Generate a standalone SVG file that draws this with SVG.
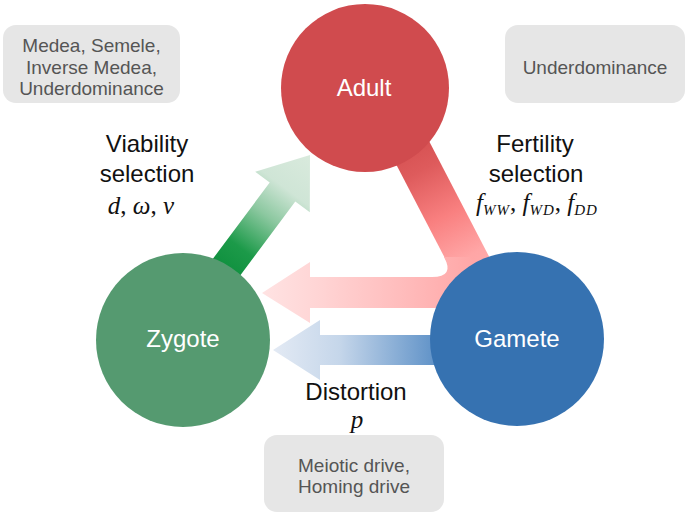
<svg xmlns="http://www.w3.org/2000/svg" width="685" height="514" viewBox="0 0 685 514">
<defs>
<linearGradient id="gGreen" gradientUnits="userSpaceOnUse" x1="211" y1="288" x2="310" y2="155">
<stop offset="0" stop-color="#058836"/>
<stop offset="0.3" stop-color="#1c9a49"/>
<stop offset="0.55" stop-color="#8cc8a0"/>
<stop offset="0.75" stop-color="#cfe5d6"/>
<stop offset="1" stop-color="#d9eadd"/>
</linearGradient>
<linearGradient id="gRedDiag" gradientUnits="userSpaceOnUse" x1="406" y1="140" x2="485" y2="292">
<stop offset="0" stop-color="#d44f50"/>
<stop offset="0.2" stop-color="#de5b5c"/>
<stop offset="0.5" stop-color="#f98080"/>
<stop offset="0.77" stop-color="#ffa6a6"/>
<stop offset="1" stop-color="#ffadad"/>
</linearGradient>
<linearGradient id="gRedHoriz" gradientUnits="userSpaceOnUse" x1="262" y1="0" x2="470" y2="0">
<stop offset="0" stop-color="#ffe3e3"/>
<stop offset="0.3" stop-color="#ffd3d3"/>
<stop offset="1" stop-color="#ffa8a8"/>
</linearGradient>
<linearGradient id="gBlue" gradientUnits="userSpaceOnUse" x1="273" y1="0" x2="440" y2="0">
<stop offset="0" stop-color="#e3eaf4"/>
<stop offset="0.4" stop-color="#c5d6ea"/>
<stop offset="1" stop-color="#5b8fc6"/>
</linearGradient>
<style>
.box{fill:#e6e6e6}
.btxt{font-family:"Liberation Sans",Arial,sans-serif;font-size:19px;fill:#555555;text-anchor:middle}
.lbl{font-family:"Liberation Sans",Arial,sans-serif;font-size:24px;fill:#111111;text-anchor:middle}
.ntxt{font-family:"Liberation Sans",Arial,sans-serif;font-size:24px;fill:#ffffff;text-anchor:middle}
.math{font-family:"Liberation Serif","Times New Roman",serif;font-style:italic;font-size:25px;fill:#111111;text-anchor:middle}
</style>
</defs>
<rect width="685" height="514" fill="#ffffff"/>

<g id="connectors">
<polygon id="arrow-viability" fill="url(#gGreen)" points="198.2,278.5 269.7,182.5 255.2,171.7 310,155 309.8,212.3 295.3,201.5 223.8,297.5"/>
<polygon id="arrow-fertility-diag" fill="url(#gRedDiag)" points="388.3,149.2 423.7,130.8 502.7,282.8 467.3,301.2"/>
<path id="arrow-fertility-horiz" fill="url(#gRedHoriz)" d="M444,257 Q455,277 432,277 L310,277 L310,262 L262,293 L310,323 L310,308 L490,308 L470,257 Z"/>
<polygon id="arrow-distortion" fill="url(#gBlue)" points="480,335 320,335 320,320 273,350 320,380 320,365 480,365"/>
</g>

<g id="node-adult">
<circle cx="365" cy="88" r="84" fill="#d04b4e"/>
<text class="ntxt" x="364" y="96">Adult</text>
</g>
<g id="node-zygote">
<circle cx="183" cy="340" r="87" fill="#559a70"/>
<text class="ntxt" x="183" y="347">Zygote</text>
</g>
<g id="node-gamete">
<circle cx="517" cy="339" r="87" fill="#3672b1"/>
<text class="ntxt" x="517" y="347">Gamete</text>
</g>

<g id="box-topleft">
<rect class="box" x="3" y="25" width="177" height="78" rx="13"/>
<text class="btxt" x="91.5" y="52">Medea, Semele,</text>
<text class="btxt" x="91.5" y="73.5">Inverse Medea,</text>
<text class="btxt" x="91.5" y="95">Underdominance</text>
</g>
<g id="box-topright">
<rect class="box" x="505" y="25" width="180" height="78" rx="13"/>
<text class="btxt" x="595" y="73.5">Underdominance</text>
</g>
<g id="box-bottom">
<rect class="box" x="264" y="435" width="180" height="77" rx="13"/>
<text class="btxt" x="354" y="471.5">Meiotic drive,</text>
<text class="btxt" x="354" y="493">Homing drive</text>
</g>

<g id="label-viability">
<text class="lbl" x="147" y="152">Viability</text>
<text class="lbl" x="147" y="182">selection</text>
<text class="math" x="141" y="214">d<tspan font-style="normal">,</tspan> ω<tspan font-style="normal">,</tspan> ν</text>
</g>
<g id="label-fertility">
<text class="math" x="537" y="211" font-size="25">f<tspan font-size="15" dy="4" letter-spacing="1">WW</tspan><tspan dy="-4" font-style="normal">, </tspan>f<tspan font-size="15" dy="4" letter-spacing="1">WD</tspan><tspan dy="-4" font-style="normal">, </tspan>f<tspan font-size="15" dy="4" letter-spacing="1">DD</tspan></text>
<text class="lbl" x="535" y="152">Fertility</text>
<text class="lbl" x="536" y="182">selection</text>
</g>
<g id="label-distortion">
<text class="lbl" x="356" y="400">Distortion</text>
<text class="math" x="357" y="428" font-size="24">p</text>
</g>
</svg>
